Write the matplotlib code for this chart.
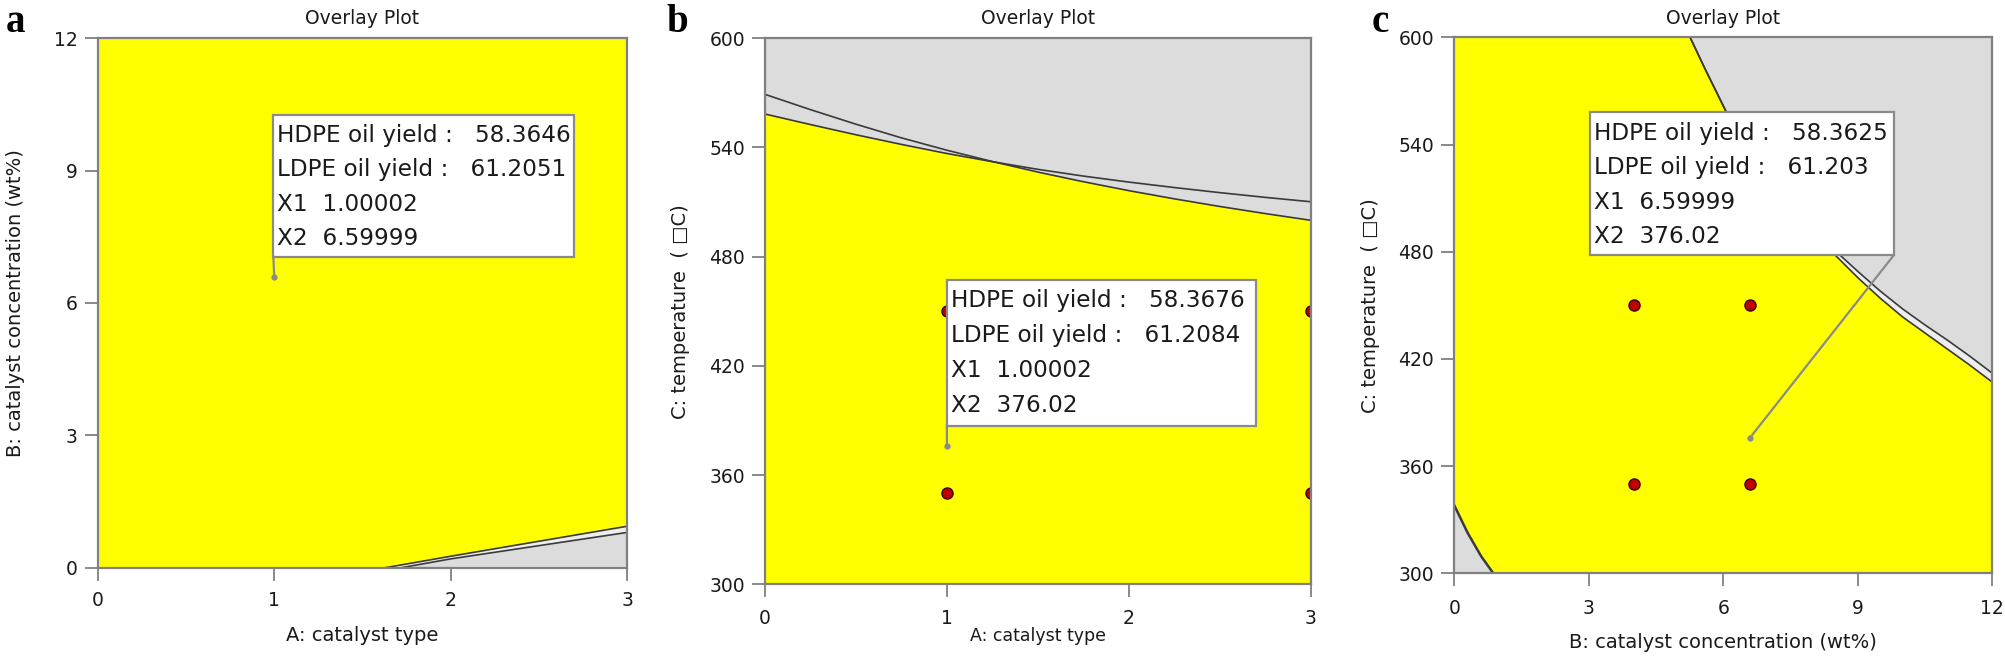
import matplotlib
matplotlib.use("Agg")
import matplotlib.pyplot as plt
from matplotlib.patches import Rectangle
from matplotlib.transforms import offset_copy
import numpy as np

# ------------------------------------------------------------------ data
# panel a : A catalyst type (x)  vs  B catalyst concentration (y)
a_xticks = [0, 1, 2, 3]
a_yticks = [0, 3, 6, 9, 12]
a_edge1_x = [1.63, 2.0, 2.5, 3.0]          # upper boundary line
a_edge1_y = [0.0, 0.26, 0.60, 0.94]
a_edge2_x = [1.72, 2.0, 2.5, 3.0]          # lower boundary line
a_edge2_y = [0.0, 0.20, 0.50, 0.80]
a_flag = [58.3646, 61.2051, 1.00002, 6.59999]   # HDPE, LDPE, X1, X2

# panel b : A catalyst type (x)  vs  C temperature (y)
b_xticks = [0, 1, 2, 3]
b_yticks = [300, 360, 420, 480, 540, 600]
b_curve_x = [0.0, 0.25, 0.5, 0.75, 1.0, 1.25, 1.5, 1.75, 2.0, 2.25, 2.5, 2.75, 3.0]
b_curve1_y = [569.2, 560.8, 552.8, 545.3, 538.5, 532.3, 526.5, 521.2, 516.3, 511.8, 507.6, 503.7, 500.0]
b_curve2_y = [558.4, 552.6, 547.0, 541.7, 536.7, 532.2, 528.0, 524.3, 521.0, 518.0, 515.2, 512.6, 510.2]
b_design_x = [1, 1, 3, 3]
b_design_y = [450, 350, 450, 350]
b_flag = [58.3676, 61.2084, 1.00002, 376.02]

# panel c : B catalyst concentration (x)  vs  C temperature (y)
c_xticks = [0, 3, 6, 9, 12]
c_yticks = [300, 360, 420, 480, 540, 600]
c_curve_x = [5.26, 5.6, 6.06, 6.5, 7.0, 7.5, 8.0, 8.5, 9.0, 9.5, 10.0, 10.5, 11.0, 11.5, 12.0]
c_inner_y = [600, 582, 558.6, 538, 519.5, 503.5, 490, 478, 465.5, 454, 443.5, 434.5, 425.5, 416.5, 407]
c_outer_y = [600, 582, 558.6, 538, 519.5, 503.5, 491, 480.5, 469, 458, 448, 439, 430.5, 421.5, 412]
c_corner_x = [0.0, 0.3, 0.6, 0.87]
c_corner_y = [338, 322.5, 309.5, 300]
c_design_x = [4.0, 6.6, 4.0, 6.6]
c_design_y = [450, 450, 350, 350]
c_flag = [58.3625, 61.203, 6.59999, 376.02]

flag_names = ["HDPE oil yield :   ", "LDPE oil yield :   ", "X1  ", "X2  "]

# ------------------------------------------------------------------ style
W, H, DPI = 2005, 656, 100
YELLOW = "#FFFF00"
GREY = "#DCDCDC"
STRIP = "#EEEEEE"
LINE = "#3a3a3a"
FRAME = "#808080"
TXT = "#1a1a1a"
plt.rcParams["font.family"] = ["DejaVu Sans"]

fig = plt.figure(figsize=(W / DPI, H / DPI), dpi=DPI)
fig.patch.set_facecolor("white")


def make_axes(left, top, right, bottom):
    return fig.add_axes([left / W, 1 - bottom / H, (right - left) / W, (bottom - top) / H])


def style_axes(ax, xlim, ylim, xticks, yticks, xlabel, ylabel, xpad, xlab_y, xlab_size=14):
    ax.set_xlim(*xlim)
    ax.set_ylim(*ylim)
    ax.set_xticks(xticks)
    ax.set_yticks(yticks)
    ax.set_xticklabels([str(v) for v in xticks])
    ax.set_yticklabels([str(v) for v in yticks])
    for s in ax.spines.values():
        s.set_color(FRAME)
        s.set_linewidth(1.6)
        s.set_zorder(6)
    ax.tick_params(axis="both", direction="out", length=9.4, width=1.3,
                   color=FRAME, labelsize=13.5, labelcolor=TXT)
    ax.tick_params(axis="x", pad=xpad)
    ax.tick_params(axis="y", pad=5)
    ax.set_xlabel(xlabel, fontsize=xlab_size, color=TXT, va="center")
    ax.set_ylabel(ylabel, fontsize=14, color=TXT, va="center")
    ax.xaxis.set_label_coords(0.5, xlab_y)
    ax.yaxis.set_label_coords(-0.155, 0.5)


def flag(ax, values, box, point, spacing, corner="left"):
    x0, y0, x1, y1 = box
    ax.add_patch(Rectangle((x0, y0), x1 - x0, y1 - y0, facecolor="white",
                           edgecolor="#8a8a8a", linewidth=1.6, zorder=7))
    for i, (name, v) in enumerate(zip(flag_names, values)):
        tr = offset_copy(ax.transData, fig=fig, x=4, y=-(21 + i * spacing), units="dots")
        ax.text(x0, y1, name + str(v), transform=tr, ha="left", va="center",
                fontsize=16.7, color=TXT, zorder=8)
    sx = x0 if corner == "left" else x1
    ax.plot([sx, point[0]], [y0, point[1]], color="#8a8a8a", lw=1.6, zorder=7)
    ax.plot([point[0]], [point[1]], "o", color="#8a8a8a", ms=3.5, zorder=7)


def design_points(ax, xs, ys):
    ax.plot(xs, ys, "o", ms=8, markerfacecolor="#C00000",
            markeredgecolor="#3a0000", markeredgewidth=1.0, linestyle="none", zorder=5)


# ---------------- panel a
axa = make_axes(97.7, 38.3, 627.3, 567.7)
axa.set_facecolor(YELLOW)
axa.fill_between(a_edge1_x, 0, a_edge1_y, color=STRIP, lw=0, zorder=1)
axa.fill_between(a_edge2_x, 0, a_edge2_y, color=GREY, lw=0, zorder=1.1)
axa.plot(a_edge1_x, a_edge1_y, color=LINE, lw=1.2, zorder=2)
axa.plot(a_edge2_x, a_edge2_y, color=LINE, lw=1.2, zorder=2)
style_axes(axa, (0, 3), (0, 12), a_xticks, a_yticks,
           "A: catalyst type", "B: catalyst concentration (wt%)", 7.5, -0.129)
flag(axa, a_flag, (0.995, 7.05, 2.70, 10.27), (a_flag[2], a_flag[3]), 34.2)

# ---------------- panel b
axb = make_axes(765.0, 38.3, 1310.7, 584.3)
axb.set_facecolor(YELLOW)
b_low = np.minimum(b_curve1_y, b_curve2_y)
axb.fill_between(b_curve_x, b_low, 600, color=GREY, lw=0, zorder=1)
axb.plot(b_curve_x, b_curve1_y, color=LINE, lw=1.2, zorder=2)
axb.plot(b_curve_x, b_curve2_y, color=LINE, lw=1.2, zorder=2)
style_axes(axb, (0, 3), (300, 600), b_xticks, b_yticks,
           "A: catalyst type", "C: temperature  ( \u25a1C)", 8.5, -0.095, xlab_size=12.5)
design_points(axb, b_design_x, b_design_y)
flag(axb, b_flag, (1.0, 387.0, 2.70, 467.4), (b_flag[2], b_flag[3]), 35.0)

# ---------------- panel c
axc = make_axes(1454.3, 37.4, 1992.3, 573.3)
axc.set_facecolor(YELLOW)
axc.fill_between(c_curve_x, c_outer_y, 600, color=GREY, lw=0, zorder=1)
axc.fill_between(c_curve_x, c_inner_y, c_outer_y, color=STRIP, lw=0, zorder=1)
axc.fill_between(c_corner_x, 300, c_corner_y, color=GREY, lw=0, zorder=1)
axc.plot(c_curve_x, c_inner_y, color=LINE, lw=1.2, zorder=2)
axc.plot(c_curve_x, c_outer_y, color=LINE, lw=1.2, zorder=2)
axc.plot(c_corner_x, c_corner_y, color=LINE, lw=1.8, zorder=2)
style_axes(axc, (0, 12), (300, 600), c_xticks, c_yticks,
           "B: catalyst concentration (wt%)", "C: temperature  ( \u25a1C)", 9, -0.130)
design_points(axc, c_design_x, c_design_y)
flag(axc, c_flag, (3.02, 478.0, 9.80, 558.0), (c_flag[2], c_flag[3]), 34.4, corner="right")

# ---------------- titles and panel letters
for cx in (362.5, 1037.9, 1723.3):
    fig.text(cx / W, 1 - 19 / H, "Overlay Plot", ha="center", va="center",
             fontsize=13.5, color=TXT)
for lx, letter in ((16, "a"), (677, "b"), (1380, "c")):
    fig.text(lx / W, 1 - 32.5 / H, letter, ha="center", va="baseline",
             fontsize=28, fontweight="bold", family=["Liberation Serif", "DejaVu Serif"],
             color="black")

fig.savefig("out.png", dpi=DPI, facecolor="white")
